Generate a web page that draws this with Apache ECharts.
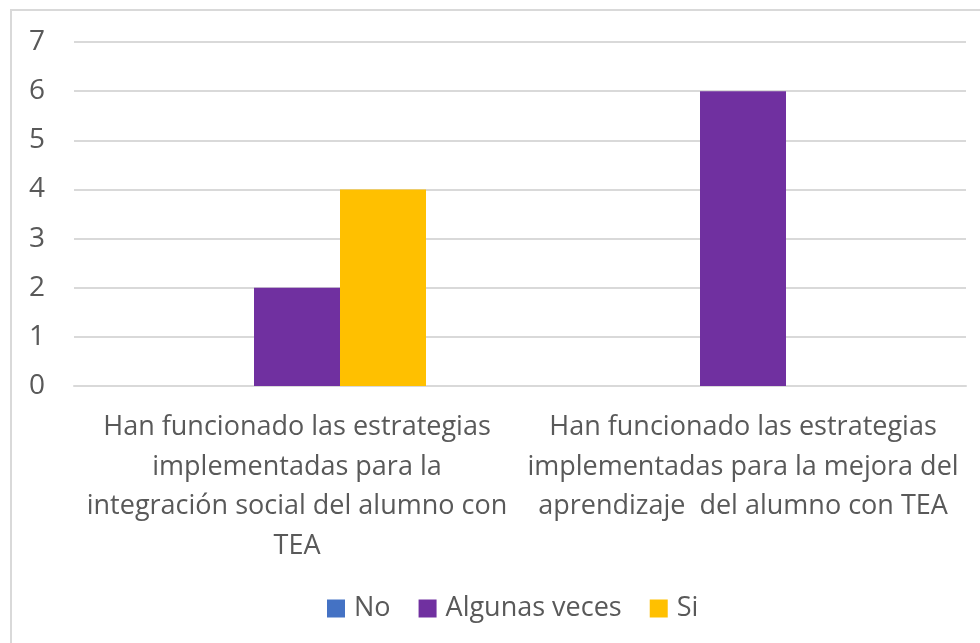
<!DOCTYPE html>
<html>
<head>
<meta charset="utf-8">
<script src="https://cdn.jsdelivr.net/npm/echarts@6/dist/echarts.min.js"></script>
<style>
  html, body { margin: 0; padding: 0; background: #fff; }
  #frame { position: absolute; left: 10px; top: 9px; width: 975px; height: 640px;
           border-top: 2px solid #d9d9d9; border-left: 2px solid #d9d9d9; }
  #chart { position: absolute; left: 0; top: 0; width: 980px; height: 643px; }
</style>
</head>
<body>
<div id="frame"></div>
<div id="chart"></div>
<script>
// categorias (saltos de linea como en la figura)
var categories = [
  'Han funcionado las estrategias\nimplementadas para la\nintegración social del alumno con\nTEA',
  'Han funcionado las estrategias\nimplementadas para la mejora del\naprendizaje  del alumno con TEA'
];
var seriesNames = ['No', 'Algunas veces', 'Si'];
var noValues = [0, 0];
var algunasValues = [2, 6];
var siValues = [4, 0];
var colors = ['#4472C4', '#7030A0', '#FFC000'];

var font = 'Open Sans';
var myChart = echarts.init(document.getElementById('chart'));

var option = {
  color: colors,
  animation: false,
  textStyle: { fontFamily: font },
  grid: { left: 74, right: 14, top: 42, bottom: 257 },
  legend: {
    top: 590,
    left: 322,
    icon: 'rect',
    itemWidth: 18,
    itemHeight: 18,
    itemGap: 28,
    textStyle: { color: '#595959', fontSize: 27, fontFamily: font, padding: [0, 0, 0, 4] },
    data: seriesNames
  },
  xAxis: {
    type: 'category',
    data: categories,
    axisLine: { lineStyle: { color: '#d9d9d9', width: 2 } },
    axisTick: { show: false },
    axisLabel: {
      interval: 0,
      color: '#595959',
      fontSize: 27,
      lineHeight: 39.5,
      margin: 22,
      fontFamily: font
    }
  },
  yAxis: {
    type: 'value',
    min: 0,
    max: 7,
    interval: 1,
    axisLine: { show: false },
    axisTick: { show: false },
    splitLine: { lineStyle: { color: '#d9d9d9', width: 2 } },
    axisLabel: { color: '#595959', fontSize: 28, margin: 29, fontFamily: font }
  },
  series: [
    { name: seriesNames[0], type: 'bar', data: noValues, barWidth: 86, barGap: '0%' },
    { name: seriesNames[1], type: 'bar', data: algunasValues, barWidth: 86, barGap: '0%' },
    { name: seriesNames[2], type: 'bar', data: siValues, barWidth: 86, barGap: '0%' }
  ]
};
myChart.setOption(option);
window.onresize = function () { myChart.resize(); };
</script>
</body>
</html>
